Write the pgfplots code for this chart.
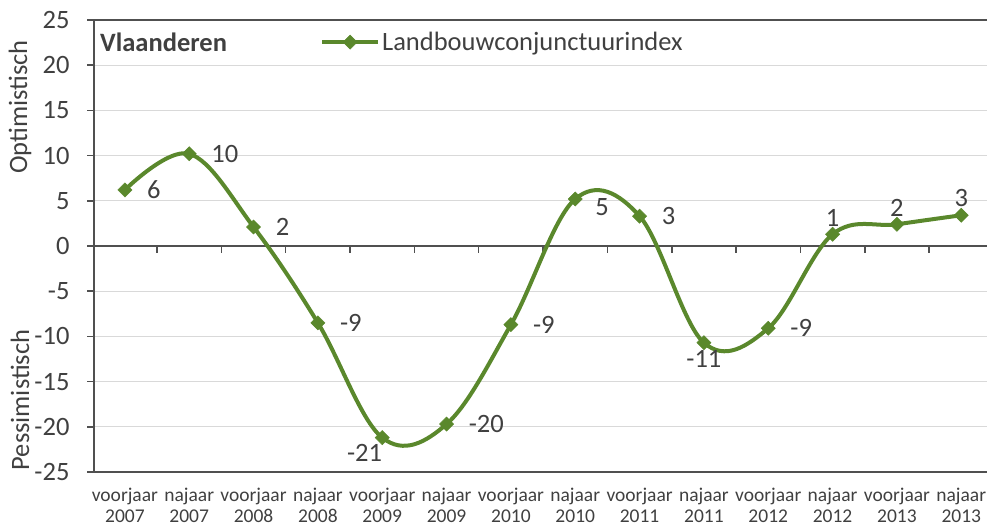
\documentclass[border=0pt]{standalone}
\usepackage{pgfplots}
\pgfplotsset{compat=1.18}
\usepackage{fontspec}
\setmainfont{Carlito}
\definecolor{lgreen}{RGB}{90,136,44}
\definecolor{txt}{RGB}{64,64,64}
\definecolor{gridc}{RGB}{217,217,217}
\definecolor{axc}{RGB}{80,80,80}
\newcommand{\fbig}{\fontsize{26.5}{30}\selectfont}
\newcommand{\fsmall}{\fontsize{19.5}{21}\selectfont}
\begin{document}
\begin{tikzpicture}[x=1pt,y=1pt]
\useasboundingbox (0,0) rectangle (987,527);
\begin{axis}[
  at={(94pt,55pt)}, anchor=south west,
  scale only axis, width=893pt, height=452pt,
  xmin=-0.48, xmax=13.4, ymin=-25, ymax=25,
  axis x line*=bottom, axis y line*=left,
  axis line style={-, draw=axc, line width=1.5pt},
  /pgf/number format/assume math mode=true,
  xtick={0,...,13},
  xticklabels={voorjaar\\2007,najaar\\2007,voorjaar\\2008,najaar\\2008,voorjaar\\2009,najaar\\2009,voorjaar\\2010,najaar\\2010,voorjaar\\2011,najaar\\2011,voorjaar\\2012,najaar\\2012,voorjaar\\2013,najaar\\2013},
  xticklabel style={align=center, font=\fsmall, text=txt, yshift=-6pt},
  x tick style={draw=none},
  ytick={-25,-20,...,25},
  yticklabels={-25,-20,-15,-10,-5,0,5,10,15,20,25},
  yticklabel style={font=\fbig, text=txt, xshift=-14pt},
  y tick style={draw=axc, line width=1.5pt},
  tick align=outside, major tick length=7pt,
  ymajorgrids, grid style={draw=gridc, line width=1.2pt},
  legend style={draw=none, fill=none, at={(0.253,0.951)}, anchor=west, inner sep=0pt, font=\fbig, text=txt, nodes={inner sep=2pt}},
  legend image code/.code={\draw[mark repeat=2,mark phase=2,#1] plot coordinates {(0pt,0pt)(28pt,0pt)(56pt,0pt)};},
]
\draw[axc, line width=1.5pt] (rel axis cs:0,1) -- (rel axis cs:1,1);
\draw[axc, line width=1.5pt] (axis cs:-0.48,0) -- (axis cs:13.4,0);
\pgfplotsinvokeforeach{0.5,1.5,2.5,3.5,4.5,5.5,6.5,7.5,8.5,9.5,10.5,11.5,12.5}{
  \draw[axc, line width=1.5pt] (axis cs:#1,0) -- ([yshift=-7pt]axis cs:#1,0);
}
\addplot[lgreen, line width=4pt, smooth, tension=0.6, mark=square*, mark size=5pt, mark options={rotate=45, line width=0.5pt, fill=lgreen}]
  coordinates {(0,6.2) (1,10.2) (2,2.1) (3,-8.5) (4,-21.2) (5,-19.7) (6,-8.7) (7,5.2) (8,3.3) (9,-10.7) (10,-9.1) (11,1.3) (12,2.4) (13,3.4)};
\addlegendentry{Landbouwconjunctuurindex}
\addplot[draw=none, mark=none, forget plot, nodes near coords, point meta=explicit symbolic,
  nodes near coords style={anchor=west, inner sep=0pt, xshift=22pt, font=\fbig, text=txt}]
  coordinates {(0,6.2)[6] (1,10.2)[10] (2,2.1)[2] (3,-8.5)[-9] (5,-19.7)[-20] (6,-8.7)[-9] (8,3.3)[3] (10,-9.1)[-9]};
\addplot[draw=none, mark=none, forget plot, nodes near coords, point meta=explicit symbolic,
  nodes near coords style={anchor=west, inner sep=0pt, xshift=20pt, yshift=-8pt, font=\fbig, text=txt}]
  coordinates {(7,5.2)[5]};
\addplot[draw=none, mark=none, forget plot, nodes near coords, point meta=explicit symbolic,
  nodes near coords style={anchor=north east, inner sep=0pt, xshift=0pt, yshift=-6pt, font=\fbig, text=txt}]
  coordinates {(4,-21.2)[-21]};
\addplot[draw=none, mark=none, forget plot, nodes near coords, point meta=explicit symbolic,
  nodes near coords style={anchor=north, inner sep=0pt, yshift=-8pt, font=\fbig, text=txt}]
  coordinates {(9,-10.7)[-11]};
\addplot[draw=none, mark=none, forget plot, nodes near coords, point meta=explicit symbolic,
  nodes near coords style={anchor=south, inner sep=0pt, yshift=8pt, font=\fbig, text=txt}]
  coordinates {(11,1.3)[1] (12,2.4)[2] (13,3.4)[3]};
\node[anchor=west, inner sep=0pt, font=\fbig\bfseries, text=txt] at (rel axis cs:0.0067,0.951) {Vlaanderen};
\end{axis}
\node[rotate=90, font=\fbig, text=txt, inner sep=0pt] at (20,420) {Optimistisch};
\node[rotate=90, font=\fbig, text=txt, inner sep=0pt] at (20,127) {Pessimistisch};
\end{tikzpicture}
\end{document}
